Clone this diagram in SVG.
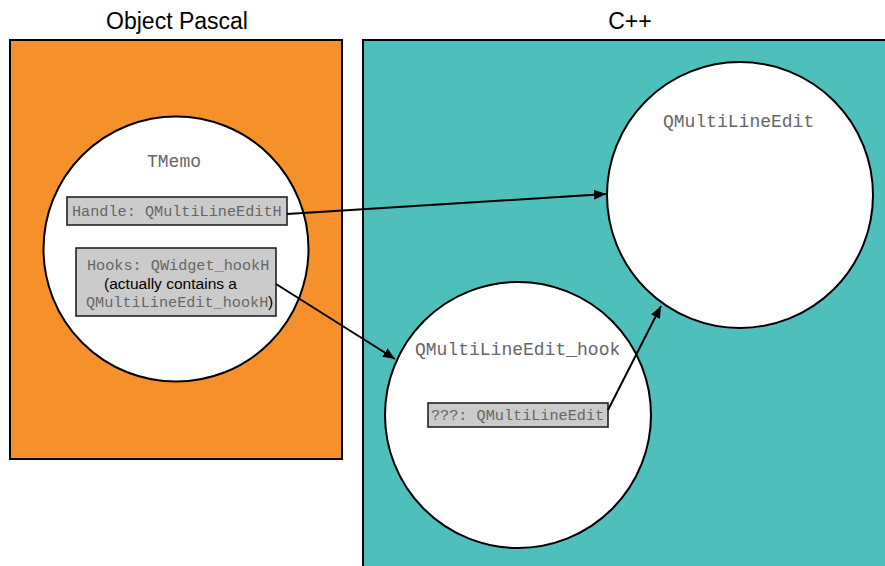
<svg xmlns="http://www.w3.org/2000/svg" width="885" height="566" viewBox="0 0 885 566">
  <defs>
    <style>
      .panel { stroke: #000; stroke-width: 2; }
      .obj { fill: #fff; stroke: #000; stroke-width: 2; }
      .field { fill: #cbcbcb; stroke: #222; stroke-width: 1.6; }
      .mono { font-family: "Liberation Mono", "Courier New", monospace; fill: #666; }
      .big { font-size: 18px; }
      .small { font-size: 15.2px; }
      .sans { font-family: "Liberation Sans", Arial, sans-serif; fill: #000; }
      .head { font-size: 23px; text-anchor: middle; }
      .conn { stroke: #000; stroke-width: 2; fill: none; marker-end: url(#arrow); }
    </style>
    <marker id="arrow" viewBox="0 0 12 10" refX="12" refY="5" markerWidth="12" markerHeight="10" markerUnits="userSpaceOnUse" orient="auto">
      <path d="M0,0 L12,5 L0,10 Z" fill="#000"/>
    </marker>
  </defs>

  <!-- language panels -->
  <g id="pascal-panel">
    <text class="sans head" x="177" y="29">Object Pascal</text>
    <rect class="panel" x="10" y="40" width="332" height="419" fill="#f5902b"/>
  </g>
  <g id="cpp-panel">
    <text class="sans head" x="630" y="29">C++</text>
    <rect class="panel" x="363" y="40" width="540" height="540" fill="#4fbfbb"/>
  </g>

  <!-- TMemo object -->
  <g id="tmemo">
    <circle class="obj" cx="176" cy="249" r="132.5"/>
    <text class="mono big" x="147" y="167">TMemo</text>
    <rect class="field" x="67" y="197" width="220" height="28"/>
    <text class="mono small" x="72" y="216">Handle: QMultiLineEditH</text>
    <rect class="field" x="76" y="248" width="200" height="68"/>
    <text class="mono small" x="87" y="270">Hooks: QWidget_hookH</text>
    <text class="sans" x="104" y="289" font-size="15.5" textLength="133" lengthAdjust="spacingAndGlyphs">(actually contains a</text>
    <text class="mono small" x="86" y="307">QMultiLineEdit_hookH</text>
    <text class="sans" x="268" y="307" font-size="15.5">)</text>
  </g>

  <!-- QMultiLineEdit object -->
  <g id="qmultilineedit">
    <circle class="obj" cx="740" cy="195" r="133"/>
    <text class="mono big" x="663" y="127">QMultiLineEdit</text>
  </g>

  <!-- QMultiLineEdit_hook object -->
  <g id="qmultilineedit-hook">
    <circle class="obj" cx="518" cy="415" r="133"/>
    <text class="mono big" x="415" y="355">QMultiLineEdit_hook</text>
    <rect class="field" x="428" y="403" width="180" height="24"/>
    <text class="mono small" x="431" y="420">???: QMultiLineEdit</text>
  </g>

  <!-- references between objects -->
  <g id="connectors">
    <line class="conn" x1="287" y1="214" x2="606" y2="194"/>
    <line class="conn" x1="276" y1="284" x2="395" y2="359"/>
    <line class="conn" x1="608" y1="410" x2="661" y2="306"/>
  </g>
</svg>
